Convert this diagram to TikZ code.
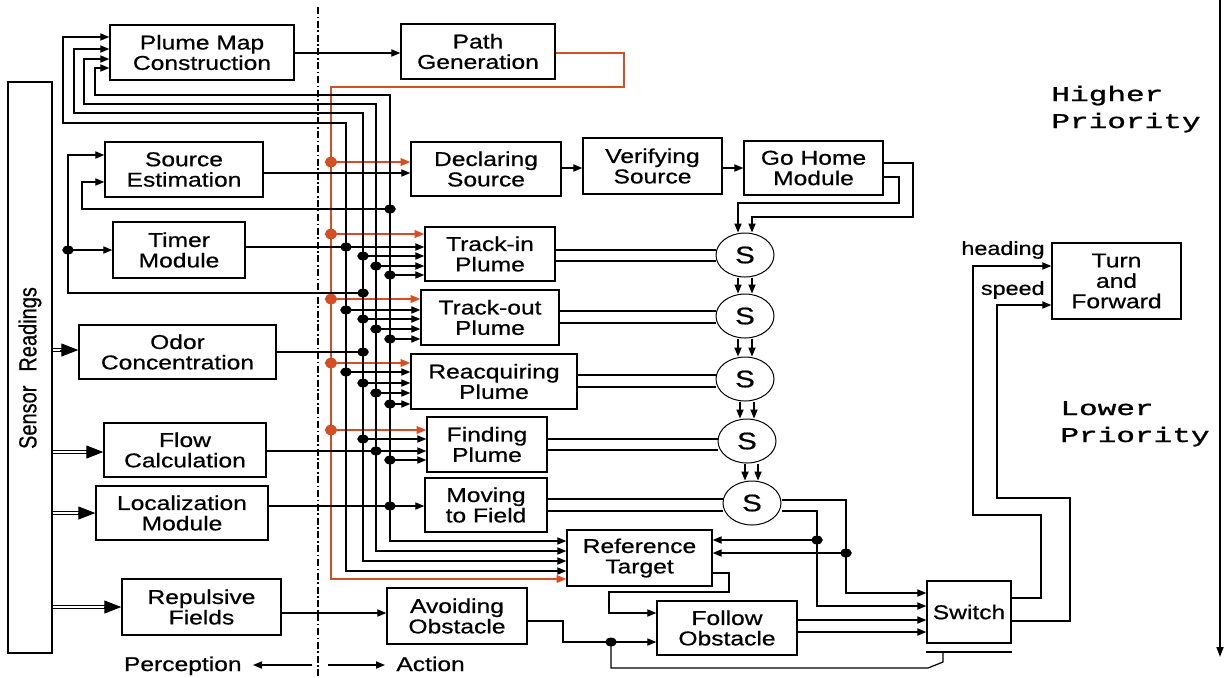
\documentclass[tikz,border=0pt]{standalone}
\usepackage{fontspec}
\setmainfont{Liberation Sans}[FakeStretch=1.23,FakeBold=0.6]
\newfontfamily\monofnt{Liberation Mono}[FakeStretch=1.48,FakeBold=1.2]
\newfontfamily\plainsans{Liberation Sans}[FakeBold=0.6]
\usetikzlibrary{arrows.meta,shapes.geometric,backgrounds,calc}
\definecolor{ored}{RGB}{214,78,36}
\newcommand\jdot[1]{\fill #1 ellipse [x radius=2.9pt, y radius=2.2pt];}
\newcommand\rdot[1]{\fill[ored] #1 ellipse [x radius=3.1pt, y radius=2.6pt];}
\tikzset{
 box/.style={draw, fill=white, line width=0.7pt, inner sep=0pt, align=center, font=\fontsize{10}{10.2}\selectfont},
 sel/.style={draw, fill=white, ellipse, line width=0.5pt, inner sep=0pt, minimum width=29pt, minimum height=22pt, font=\fontsize{12}{12}\selectfont},
 wire/.style={line width=0.6pt},
 arr/.style={wire, -{Triangle[length=4.5pt,width=3.6pt]}},
 darr/.style={wire, {Triangle[length=4.5pt,width=3.6pt]}-{Triangle[length=4.5pt,width=3.6pt]}},
 rarr/.style={draw=ored, line width=0.7pt, -{Triangle[length=4.8pt,width=3.8pt]}},
 dbl/.style={line width=0.5pt, double distance=1.4pt},
 bighead/.style={line width=0.5pt, -{Triangle[length=8.5pt,width=6.5pt]}},
 lbl/.style={inner sep=0pt, font=\fontsize{9.5}{10}\selectfont},
 txt/.style={inner sep=0pt, font=\fontsize{10}{10}\selectfont},
 prio/.style={inner sep=0pt, anchor=base west, font=\monofnt\fontsize{10.5}{13.5}\selectfont},
}
\begin{document}
\begin{tikzpicture}[x=0.5pt,y=-0.5pt]
\useasboundingbox (0,0) rectangle (1225,677);

% boxes
\node[box, minimum width=92pt, minimum height=27.5pt] (pmc) at (202,52.5) {Plume Map\\Construction};
\node[box, minimum width=77pt, minimum height=27.5pt] (pg) at (478,51.5) {Path\\Generation};
\node[box, minimum width=79pt, minimum height=27.5pt] (se) at (184,169.5) {Source\\Estimation};
\node[box, minimum width=75pt, minimum height=27pt] (ds) at (486,169) {Declaring\\Source};
\node[box, minimum width=69.5pt, minimum height=28pt] (vs) at (652.5,166) {Verifying\\Source};
\node[box, minimum width=69.5pt, minimum height=27pt] (gh) at (813.5,168) {Go Home\\Module};
\node[box, minimum width=66pt, minimum height=28pt] (tm) at (179,250) {Timer\\Module};
\node[box, minimum width=65pt, minimum height=27pt] (ti) at (490,254) {Track-in\\Plume};
\node[box, minimum width=69pt, minimum height=27.5pt] (to) at (490,317.5) {Track-out\\Plume};
\node[box, minimum width=98.5pt, minimum height=27pt] (oc) at (177.5,352) {Odor\\Concentration};
\node[box, minimum width=83pt, minimum height=27.5pt] (rp) at (494,381.5) {Reacquiring\\Plume};
\node[box, minimum width=81pt, minimum height=27pt] (fc) at (185,450) {Flow\\Calculation};
\node[box, minimum width=60pt, minimum height=27.5pt] (fp) at (487,444.5) {Finding\\Plume};
\node[box, minimum width=86pt, minimum height=27pt] (lm) at (182,513) {Localization\\Module};
\node[box, minimum width=61pt, minimum height=27pt] (mf) at (486,505) {Moving\\to Field};
\node[box, minimum width=72.5pt, minimum height=28pt] (rt) at (639.5,558) {Reference\\Target};
\node[box, minimum width=79.5pt, minimum height=28pt] (rf) at (201.5,607) {Repulsive\\Fields};
\node[box, minimum width=70pt, minimum height=28pt] (ao) at (457,616) {Avoiding\\Obstacle};
\node[box, minimum width=70pt, minimum height=27pt] (fo) at (727,628) {Follow\\Obstacle};
\node[box, minimum width=42pt, minimum height=31pt] (sw) at (969,612) {Switch};
\node[box, minimum width=64.5pt, minimum height=38pt] (tf) at (1116.5,281) {Turn\\and\\Forward};
\node[box, minimum width=22pt, minimum height=285.5pt] (sr) at (30,367.5) {};
\node[rotate=90, inner sep=0pt, font=\plainsans\fontsize{10}{10}\selectfont] (srt) at (30,368) {\scalebox{1}[1.23]{Sensor\hspace{0.7em}Readings}};

% S nodes
\node[sel] (s1) at (745,255) {S};
\node[sel] (s2) at (745,316) {S};
\node[sel] (s3) at (745,379) {S};
\node[sel] (s4) at (747,441) {S};
\node[sel] (s5) at (752,503) {S};

% labels
\node[lbl, anchor=east] (hd) at (1045,250) {heading};
\node[lbl, anchor=east] (sp) at (1045,290) {speed};
\node[prio] (hp1) at (1051,101) {Higher};
\node[prio] (hp2) at (1051,128) {Priority};
\node[prio] (lp1) at (1060,415) {Lower};
\node[prio] (lp2) at (1060,442) {Priority};
\node[txt, anchor=base east] (pc) at (242,671) {Perception};
\node[txt, anchor=base west] (ac) at (396,671) {Action};

% dots
\jdot{(390,209)} \jdot{(363,293)} \jdot{(68,250)}
\jdot{(346,247)} \jdot{(363,256)} \jdot{(376,266)} \jdot{(390,275)}
\jdot{(346,310)} \jdot{(363,319)} \jdot{(376,329)} \jdot{(390,339)}
\jdot{(363,352)}
\jdot{(346,372)} \jdot{(363,383)} \jdot{(376,393)} \jdot{(390,404)}
\jdot{(363,439)} \jdot{(376,451)} \jdot{(390,460)}
\jdot{(390,506)}
\jdot{(817,540)} \jdot{(846,553)} \jdot{(611,642)}
\rdot{(331,162)} \rdot{(331,234)} \rdot{(331,299)} \rdot{(331,363)} \rdot{(331,430)}

\begin{scope}[on background layer]
\fill[white] (0,0) rectangle (1225,677);
% divider
\draw[line width=0.7pt, dash pattern=on 3.5pt off 1.3pt on 0.8pt off 1.3pt] (318,7) -- (318,677);
% right priority arrow
\draw[line width=0.8pt, -{Triangle[length=5pt,width=3.5pt]}] (1220,0) -- (1220,657);
% perception / action arrows
\draw[arr] (312,665) -- ($(pc.east|-0,665)+(11,0)$);
\draw[arr] (328,665) -- ($(ac.west|-0,665)+(-11,0)$);

% sensor readings double arrows
\draw[dbl] (sr.east|-0,350) -- (62,350);  \draw[bighead] (60,350) -- (oc.west|-0,350);
\draw[dbl] (sr.east|-0,452) -- (90,452);  \draw[bighead] (88,452) -- (fc.west|-0,452);
\draw[dbl] (sr.east|-0,513) -- (80,513);  \draw[bighead] (78,513) -- (lm.west|-0,513);
\draw[dbl] (sr.east|-0,607) -- (106,607); \draw[bighead] (104,607) -- (rf.west|-0,607);

% plume map -> path generation
\draw[arr] (pmc.east|-0,53) -- (pg.west|-0,53);
% red bus
\draw[rarr] (pg.east|-0,53) -- (624,53) -- (624,87) -- (331,87) -- (331,579) -- (rt.west|-0,579);
\draw[rarr] (331,162) -- (ds.west|-0,162);
\draw[rarr] (331,234) -- (ti.west|-0,234);
\draw[rarr] (331,299) -- (to.west|-0,299);
\draw[rarr] (331,363) -- (rp.west|-0,363);
\draw[rarr] (331,430) -- (fp.west|-0,430);

% black bus lines
\draw[darr] (pmc.west|-0,37) -- (63,37) -- (63,123) -- (346,123) -- (346,571) -- (rt.west|-0,571);
\draw[darr] (pmc.west|-0,49) -- (74,49) -- (74,113) -- (363,113) -- (363,561) -- (rt.west|-0,561);
\draw[darr] (pmc.west|-0,59) -- (84,59) -- (84,104) -- (376,104) -- (376,551) -- (rt.west|-0,551);
\draw[darr] (pmc.west|-0,68) -- (95,68) -- (95,95) -- (390,95) -- (390,541) -- (rt.west|-0,541);

% feedback to source estimation and timer
\draw[arr] (390,209) -- (82,209) -- (82,182) -- (se.west|-0,182);
\draw[arr] (363,293) -- (68,293) -- (68,155) -- (se.west|-0,155);
\draw[arr] (68,250) -- (tm.west|-0,250);

% perception outputs
\draw[arr] (se.east|-0,173) -- (ds.west|-0,173);
\draw[arr] (tm.east|-0,247) -- (ti.west|-0,247);
\draw[wire] (oc.east|-0,352) -- (363,352);
\draw[arr] (fc.east|-0,451) -- (fp.west|-0,451);
\draw[arr] (lm.east|-0,506) -- (mf.west|-0,506);
\draw[arr] (rf.east|-0,613) -- (ao.west|-0,613);

% taps
\draw[arr] (363,256) -- (ti.west|-0,256);
\draw[arr] (376,266) -- (ti.west|-0,266);
\draw[arr] (390,275) -- (ti.west|-0,275);
\draw[arr] (346,310) -- (to.west|-0,310);
\draw[arr] (363,319) -- (to.west|-0,319);
\draw[arr] (376,329) -- (to.west|-0,329);
\draw[arr] (390,339) -- (to.west|-0,339);
\draw[arr] (346,372) -- (rp.west|-0,372);
\draw[arr] (363,383) -- (rp.west|-0,383);
\draw[arr] (376,393) -- (rp.west|-0,393);
\draw[arr] (390,404) -- (rp.west|-0,404);
\draw[arr] (363,439) -- (fp.west|-0,439);
\draw[arr] (390,460) -- (fp.west|-0,460);

% source chain
\draw[arr] (ds.east|-0,168) -- (vs.west|-0,168);
\draw[arr] (vs.east|-0,168) -- (gh.west|-0,168);
\draw[arr] (gh.east|-0,163) -- (913,163) -- (913,217) -- (752,217) -- (s1.north-|752,0);
\draw[arr] (gh.east|-0,177) -- (899,177) -- (899,203) -- (738,203) -- (s1.north-|738,0);

% behaviours to S
\draw[wire] (ti.east|-0,250) -- (s1.west|-0,250);
\draw[wire] (ti.east|-0,261) -- (s1.west|-0,261);
\draw[wire] (to.east|-0,311) -- (s2.west|-0,311);
\draw[wire] (to.east|-0,323) -- (s2.west|-0,323);
\draw[wire] (rp.east|-0,375) -- (s3.west|-0,375);
\draw[wire] (rp.east|-0,387) -- (s3.west|-0,387);
\draw[wire] (fp.east|-0,439) -- (s4.west|-0,439);
\draw[wire] (fp.east|-0,450) -- (s4.west|-0,450);
\draw[wire] (mf.east|-0,499) -- (s5.west|-0,499);
\draw[wire] (mf.east|-0,511) -- (s5.west|-0,511);

% S chain
\draw[arr] (s1.south-|738,0) -- (s2.north-|738,0);
\draw[arr] (s1.south-|752,0) -- (s2.north-|752,0);
\draw[arr] (s2.south-|738,0) -- (s3.north-|738,0);
\draw[arr] (s2.south-|752,0) -- (s3.north-|752,0);
\draw[arr] (s3.south-|740,0) -- (s4.north-|740,0);
\draw[arr] (s3.south-|754,0) -- (s4.north-|754,0);
\draw[arr] (s4.south-|745,0) -- (s5.north-|745,0);
\draw[arr] (s4.south-|758,0) -- (s5.north-|758,0);

% S5 outputs
\draw[arr] (s5.east|-0,500) -- (846,500) -- (846,593) -- (sw.west|-0,593);
\draw[arr] (s5.east|-0,511) -- (817,511) -- (817,606) -- (sw.west|-0,606);
\draw[arr] (846,553) -- (rt.east|-0,553);
\draw[arr] (817,540) -- (rt.east|-0,540);

% obstacle handling
\draw[arr] (rt.east|-0,573) -- (729,573) -- (729,592) -- (609,592) -- (609,613) -- (fo.west|-0,613);
\draw[arr] (ao.east|-0,621) -- (563,621) -- (563,642) -- (fo.west|-0,642);
\draw[wire] (611,642) -- (611,668) -- (928,668) -- (943,662) -- (943,652);
\draw[wire] (sw.south west|-0,652) -- (sw.south east|-0,652);
\draw[arr] (fo.east|-0,620) -- (sw.west|-0,620);
\draw[arr] (fo.east|-0,632) -- (sw.west|-0,632);

% switch to turn and forward
\draw[arr] (sw.east|-0,598) -- (1041,598) -- (1041,515) -- (973,515) -- (973,266) -- (tf.west|-0,266);
\draw[arr] (sw.east|-0,621) -- (1070,621) -- (1070,498) -- (997,498) -- (997,305) -- (tf.west|-0,305);
\end{scope}
\end{tikzpicture}
\end{document}
